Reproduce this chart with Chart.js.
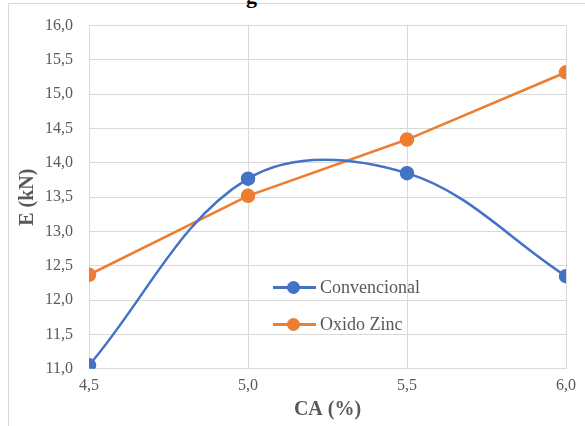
<!DOCTYPE html>
<html>
<head>
<meta charset="utf-8">
<script src="https://cdn.jsdelivr.net/npm/chart.js@4/dist/chart.umd.min.js"></script>
<style>
  html, body { margin: 0; padding: 0; background: #fff; }
  #wrap { position: relative; width: 585px; height: 426px; overflow: hidden; }
  #frame { position: absolute; left: 8px; top: 3px; width: 600px; height: 460px; border: 1px solid #d9d9d9; }
  #cut { position: absolute; left: 246px; top: -17px; font: bold 22px "Liberation Serif", serif; color: #000; }
  #legend { position: absolute; left: 273px; top: 276px; font: 18px "Liberation Serif", serif; color: #595959; }
  #legend div { height: 37px; display: flex; align-items: flex-start; }
  #legend .smp { position: relative; width: 43px; height: 22px; margin-right: 4px; }
  #legend .smp i { position: absolute; left: 0; right: 0; top: 10px; height: 3px; }
  #legend .smp b { position: absolute; left: 14px; top: 5px; width: 13px; height: 13px; border-radius: 50%; }
  #legend span { line-height: 22px; }
  canvas { position: absolute; left: 0; top: 0; }
</style>
</head>
<body>
<div id="wrap">
  <div id="frame"></div>
  <div id="cut">g</div>
  <canvas id="chart" width="585" height="426"></canvas>
  <div id="legend"></div>
</div>
<script>
(() => {
  'use strict'

  const caValues = [4.5, 5.0, 5.5, 6.0];
  const convencional = [11.05, 13.77, 13.85, 12.35];
  const oxidoZinc = [12.37, 13.52, 14.34, 15.32];
  const seriesNames = ['Convencional', 'Oxido Zinc'];
  const seriesColors = ['#4472C4', '#ED7D31'];

  const toPoints = (vals) => vals.map((v, i) => ({ x: caValues[i], y: v }));
  const comma = (v) => Number(v).toFixed(1).replace('.', ',');

  const ctx = document.getElementById('chart');
  new Chart(ctx, {
    type: 'line',
    data: {
      datasets: [{
        label: seriesNames[0],
        data: toPoints(convencional),
        borderColor: seriesColors[0],
        backgroundColor: seriesColors[0],
        pointBackgroundColor: seriesColors[0],
        borderWidth: 2.5,
        pointRadius: 6,
        tension: 0.36
      }, {
        label: seriesNames[1],
        data: toPoints(oxidoZinc),
        borderColor: seriesColors[1],
        backgroundColor: seriesColors[1],
        pointBackgroundColor: seriesColors[1],
        borderWidth: 2.5,
        pointRadius: 6,
        tension: 0
      }]
    },
    options: {
      responsive: false,
      animation: false,
      layout: { padding: { left: 5, right: 19, top: 15, bottom: 4 } },
      plugins: {
        legend: { display: false },
        tooltip: { enabled: false }
      },
      scales: {
        x: {
          type: 'linear',
          min: 4.5,
          max: 6.0,
          grid: { color: '#d9d9d9', drawTicks: false, lineWidth: 1 },
          border: { display: false },
          ticks: {
            stepSize: 0.5,
            padding: 7,
            color: '#595959',
            font: { family: 'Liberation Serif', size: 16 },
            callback: comma
          },
          title: {
            display: true,
            text: 'CA (%)',
            color: '#595959',
            padding: { top: -4, bottom: 0 },
            font: { family: 'Liberation Serif', size: 20, weight: 'bold' }
          }
        },
        y: {
          min: 11,
          max: 16,
          grid: { color: '#d9d9d9', drawTicks: false, lineWidth: 1 },
          border: { display: false },
          ticks: {
            stepSize: 0.5,
            padding: 16,
            color: '#595959',
            font: { family: 'Liberation Serif', size: 16 },
            callback: comma
          },
          title: {
            display: true,
            text: 'E (kN)',
            color: '#595959',
            padding: { top: 11, bottom: -11 },
            font: { family: 'Liberation Serif', size: 20, weight: 'bold' }
          }
        }
      }
    }
  });

  const legend = document.getElementById('legend');
  seriesNames.forEach((name, i) => {
    const row = document.createElement('div');
    row.innerHTML = '<span class="smp"><i style="background:' + seriesColors[i] + '"></i><b style="background:' + seriesColors[i] + '"></b></span><span>' + name + '</span>';
    legend.appendChild(row);
  });
})()
</script>
</body>
</html>
